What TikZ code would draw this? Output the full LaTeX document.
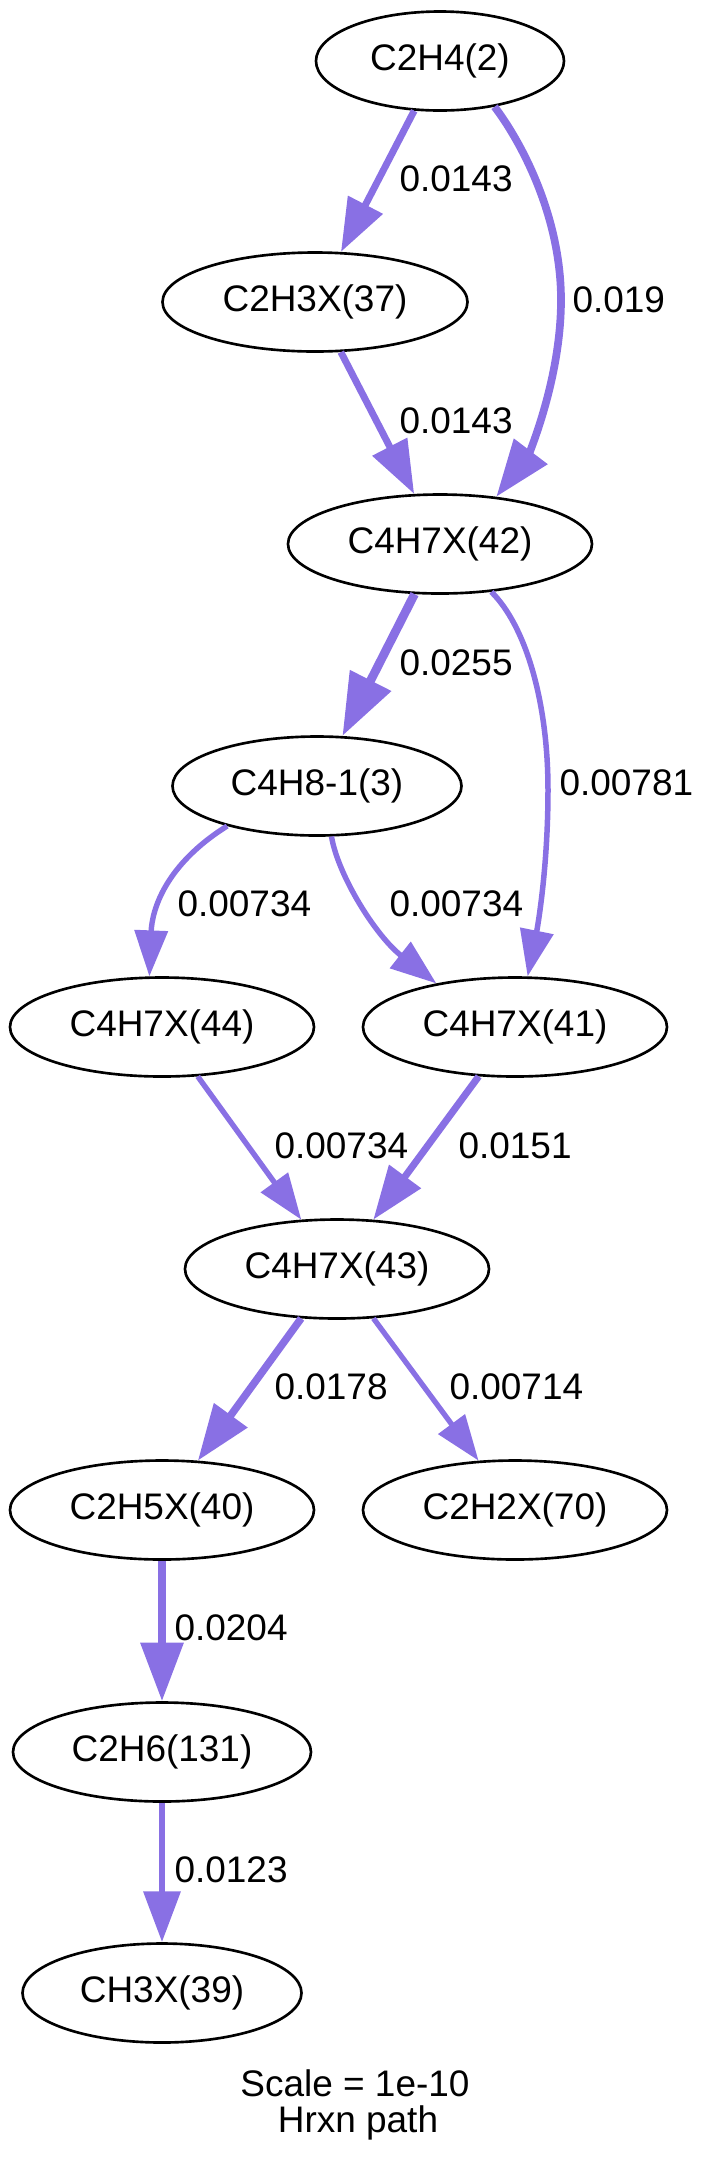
\documentclass[tikz,border=0pt]{standalone}
\usepackage{fontspec}
\setmainfont{Liberation Sans}
\usepackage{xcolor}
\usepackage{tikz}
\usetikzlibrary{shapes.geometric, arrows.meta, positioning, calc}
\definecolor{fluxcol}{RGB}{137,112,228}
\newcommand{\pxu}{0.3788pt}

\begin{document}
\begin{tikzpicture}[x=\pxu, y=-\pxu, font=\fontsize{14pt}{16.8pt}\selectfont,
    species/.style={ellipse, draw=black, line width=1pt, inner sep=0pt, minimum height=99*\pxu},
    flux/.style={draw=fluxcol, line width=#1*\pxu, -{Triangle[length=7.6pt 4.8, width=5.4pt 3.4]}},
    lbl/.style={anchor=west, inner sep=0pt}]
    \useasboundingbox (0,0) rectangle (707,2161);
    \foreach \n/\x/\y/\w/\t in {c2h4/440/61/248/C2H4(2), c2h3x37/315/302/305/C2H3X(37),
        c4h7x42/440/544/304/C4H7X(42), c4h8/317/786/289/C4H8-1(3),
        c4h7x44/162/1027/304/C4H7X(44), c4h7x41/515/1027/304/C4H7X(41),
        c4h7x43/337/1269/304/C4H7X(43), c2h5x40/162/1510/304/C2H5X(40),
        c2h2x70/515/1510/304/C2H2X(70), c2h6/162/1752/298/C2H6(131),
        ch3x39/162/1993/279/CH3X(39)} {
        \node[species, minimum width=\w*\pxu] (\n) at (\x,\y) {\t};
    }
    \foreach \a/\b/\p in {c2h4/c2h3x37/6.9, c2h3x37/c4h7x42/6.9, c4h7x42/c4h8/8.8,
        c4h7x44/c4h7x43/5.4, c4h7x41/c4h7x43/7, c4h7x43/c2h5x40/7.5,
        c4h7x43/c2h2x70/5.3, c2h5x40/c2h6/8, c2h6/ch3x39/6.4} {
        \draw[flux=\p] (\a) -- (\b);
    }
    \draw[flux=7.7] (c2h4.-40) .. controls (520,140) and (561,215) .. (561,300)
        .. controls (561,380) and (528,455) .. (c4h7x42.40);
    \draw[flux=5.5] (c4h7x42.-43) .. controls (525,625) and (548,700) .. (548,790)
        .. controls (548,870) and (537,930) .. (c4h7x41.76);
    \draw[flux=5.4] (c4h8.204) .. controls (165,865) and (152,910) .. (c4h7x44.104);
    \draw[flux=5.4] (c4h8.-74) .. controls (338,875) and (375,935) .. (c4h7x41.151);
    \foreach \n/\x/\y/\t in {f1/399/179/0.0143, f2/572/300/0.019, f3/399/421/0.0143,
        f4/399/663/0.0255, f5/559/783/0.00781, f6/177/904/0.00734, f7/389/904/0.00734,
        f8/274/1146/0.00734, f9/458/1146/0.0151, f10/274/1387/0.0178,
        f11/449/1387/0.00714, f12/174/1628/0.0204, f13/174/1870/0.0123} {
        \node[lbl] (\n) at (\x,\y) {\t};
    }
    \node[anchor=base] (scale) at (355,2096) {Scale = 1e-10};
    \node[anchor=base] (title) at (358,2132) {Hrxn path};
\end{tikzpicture}
\end{document}
